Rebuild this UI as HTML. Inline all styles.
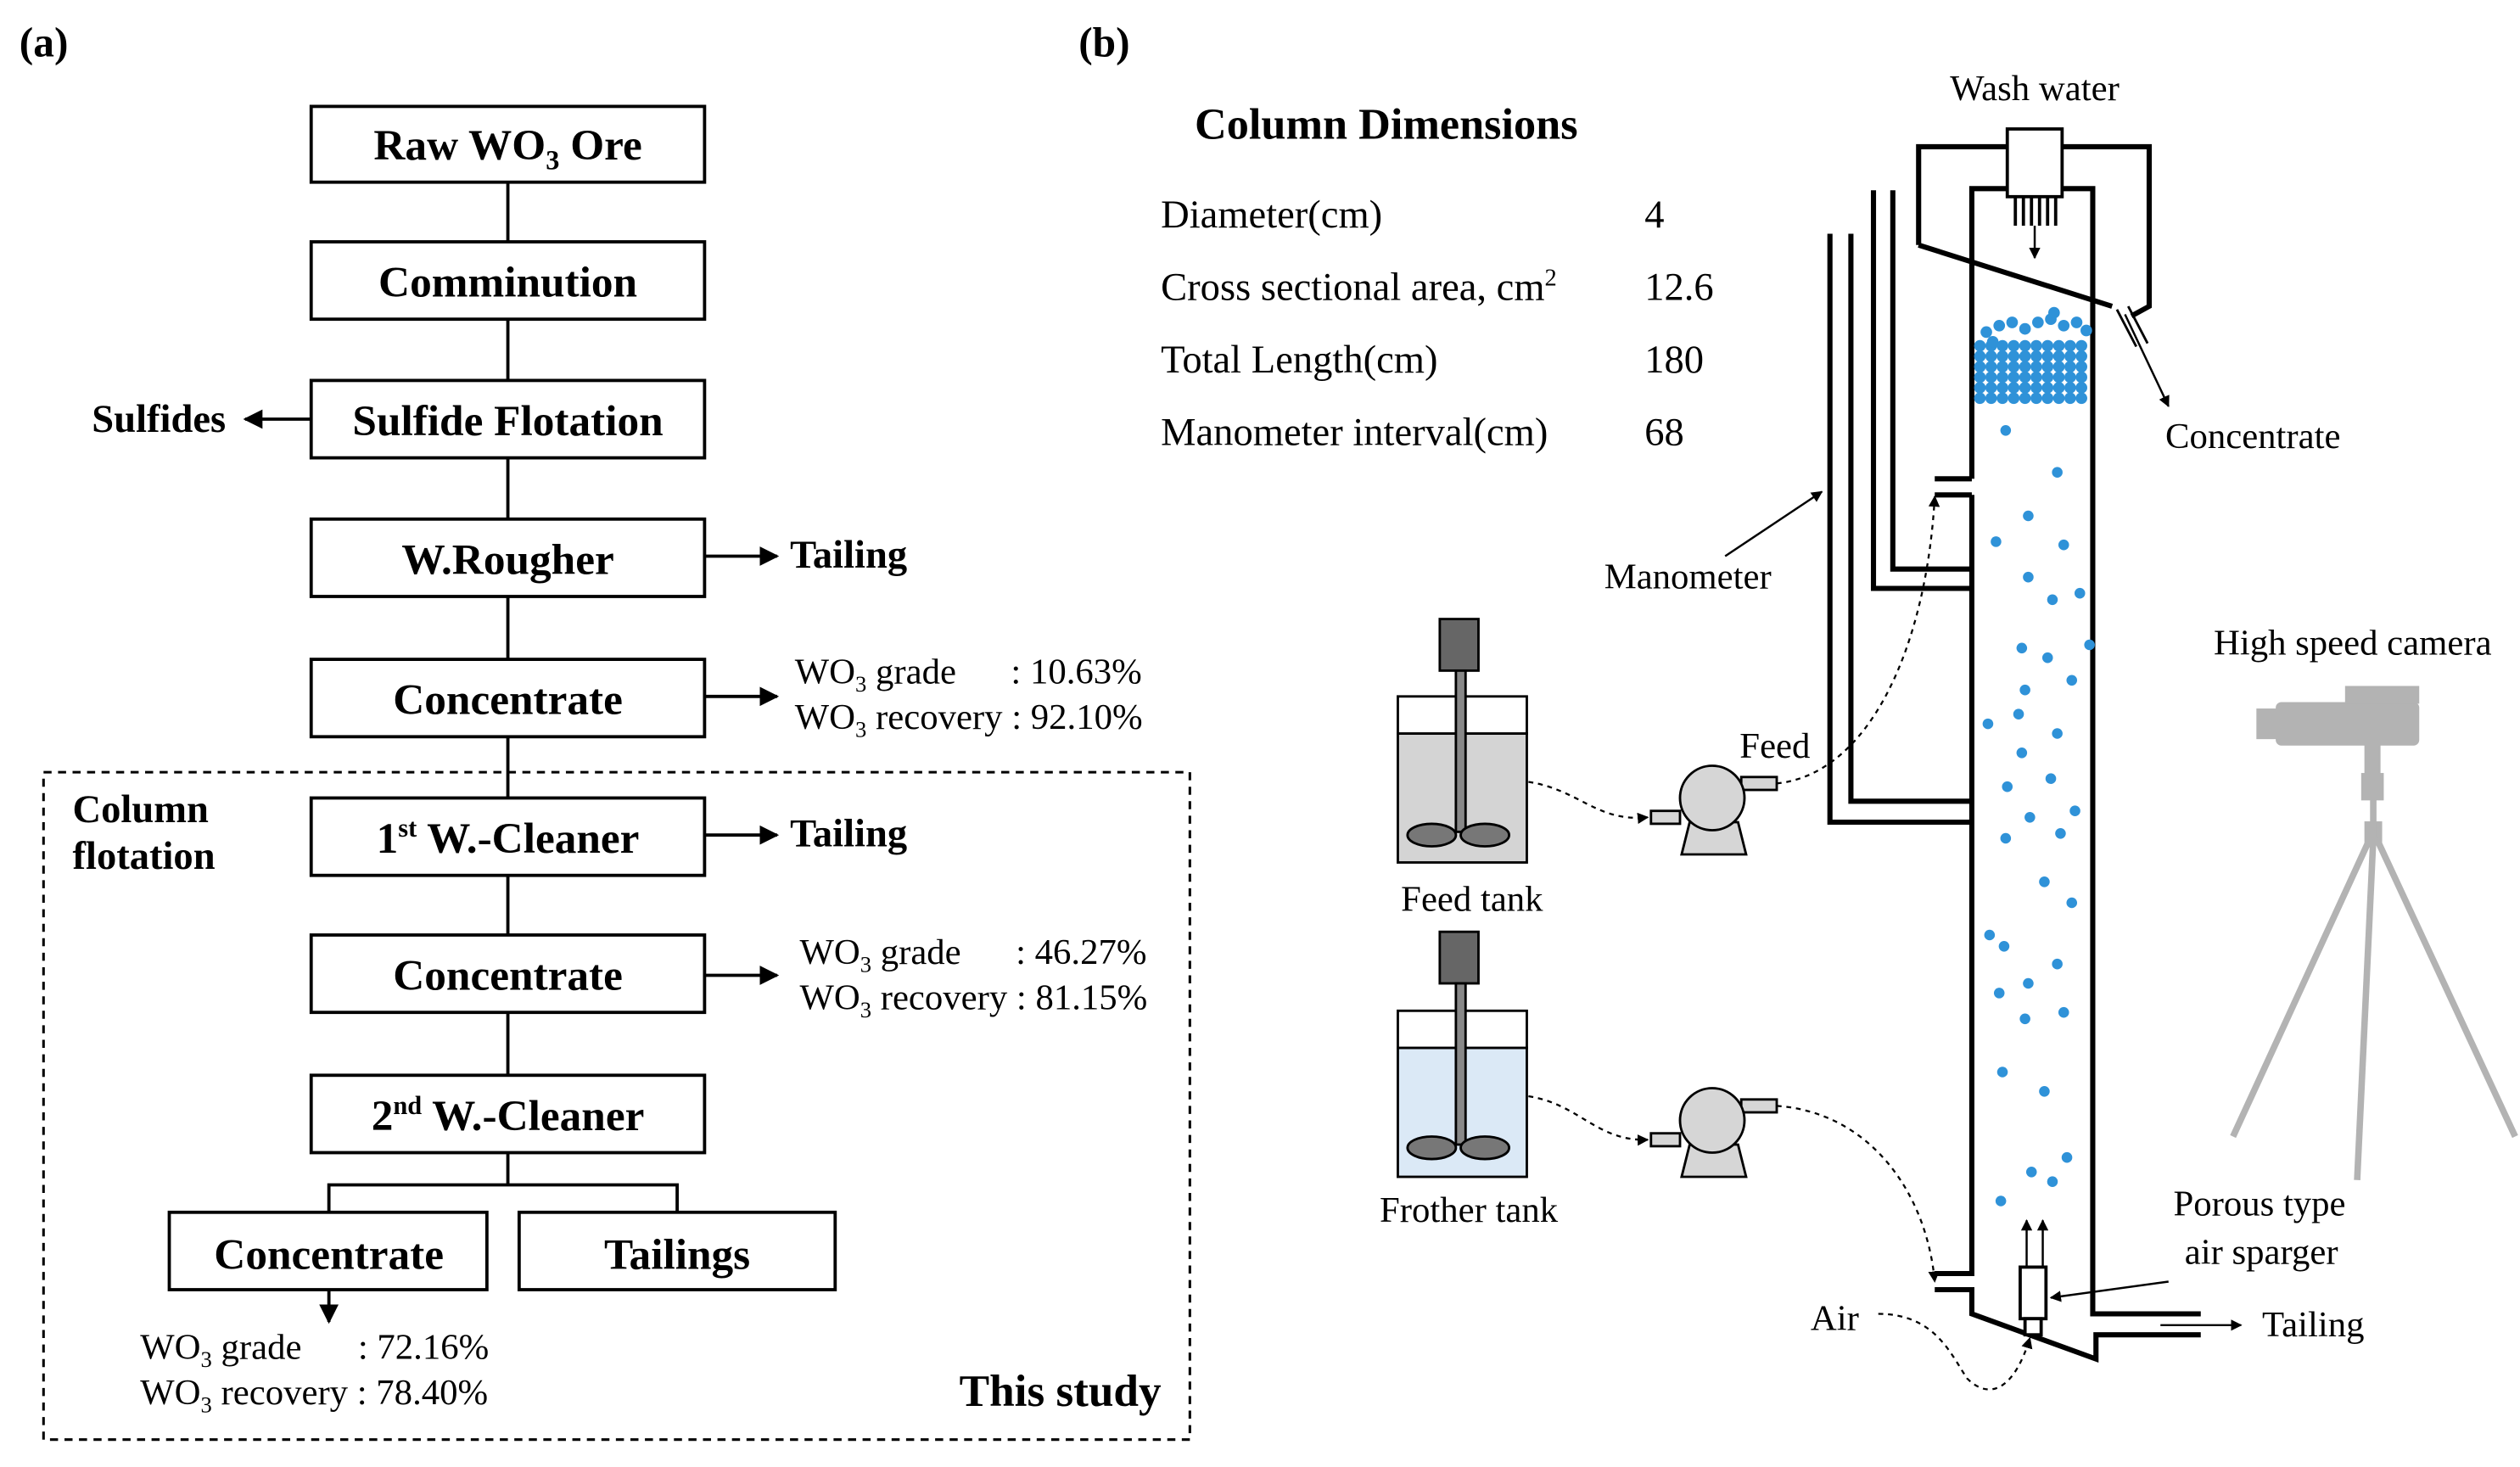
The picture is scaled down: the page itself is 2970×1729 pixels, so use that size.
<!DOCTYPE html>
<html><head><meta charset="utf-8"><style>
html,body{margin:0;padding:0;background:#fff}
svg{display:block}
text{font-family:"Liberation Serif",serif;fill:#000}
.b{font-weight:bold;font-size:27px}
.t{font-size:22.5px}
.tb{font-size:24.5px}
</style></head><body>
<svg id="s" width="2970" height="1729" viewBox="0 0 1563 910" preserveAspectRatio="none" xmlns="http://www.w3.org/2000/svg">
<defs>
<marker id="a" viewBox="0 0 10 10" refX="9" refY="5" markerWidth="7" markerHeight="7" orient="auto-start-reverse" markerUnits="userSpaceOnUse"><path d="M0,0L10,5L0,10z"/></marker>
<marker id="m" viewBox="0 0 10 10" refX="9" refY="5" markerWidth="12" markerHeight="12" orient="auto" markerUnits="userSpaceOnUse"><path d="M0,0L10,5L0,10z"/></marker>
</defs>
<text x="12" y="35" class="b" style="font-size:26px">(a)</text>
<text x="669" y="35" class="b" style="font-size:26px">(b)</text>
<g stroke="#000" stroke-width="2" fill="none">
<line x1="315" y1="113" x2="315" y2="735"/>
<rect x="193" y="66" width="244" height="47" fill="#fff"/>
<rect x="193" y="150" width="244" height="48" fill="#fff"/>
<rect x="193" y="236" width="244" height="48" fill="#fff"/>
<rect x="193" y="322" width="244" height="48" fill="#fff"/>
<rect x="193" y="409" width="244" height="48" fill="#fff"/>
<rect x="193" y="495" width="244" height="48" fill="#fff"/>
<rect x="193" y="580" width="244" height="48" fill="#fff"/>
<rect x="193" y="667" width="244" height="48" fill="#fff"/>
<rect x="105" y="752" width="197" height="48" fill="#fff"/>
<rect x="322" y="752" width="196" height="48" fill="#fff"/>
<path d="M204,752V735H420V752"/>
<rect x="27" y="479" width="711" height="414" stroke-dasharray="5,4" stroke-width="1.6"/>
</g>
<g stroke="#000" stroke-width="2" fill="none" marker-end="url(#m)">
<line x1="193" y1="260" x2="152" y2="260"/>
<line x1="437" y1="345" x2="482" y2="345"/>
<line x1="437" y1="432" x2="482" y2="432"/>
<line x1="437" y1="518" x2="482" y2="518"/>
<line x1="437" y1="605" x2="482" y2="605"/>
<line x1="204" y1="800" x2="204" y2="820"/>
</g>
<g class="b" text-anchor="middle">
<text x="315" y="99">Raw WO<tspan font-size="17" dy="6">3</tspan><tspan dy="-6"> Ore</tspan></text>
<text x="315" y="184">Comminution</text>
<text x="315" y="270">Sulfide Flotation</text>
<text x="315" y="356">W.Rougher</text>
<text x="315" y="443">Concentrate</text>
<text x="315" y="529">1<tspan font-size="16" dy="-10">st</tspan><tspan dy="10"> W.-Cleaner</tspan></text>
<text x="315" y="614">Concentrate</text>
<text x="315" y="701">2<tspan font-size="16" dy="-10">nd</tspan><tspan dy="10"> W.-Cleaner</tspan></text>
<text x="204" y="787">Concentrate</text>
<text x="420" y="787">Tailings</text>
</g>
<g class="b" style="font-size:24.5px">
<text x="57" y="268">Sulfides</text>
<text x="490" y="352">Tailing</text>
<text x="490" y="525">Tailing</text>
<text x="45" y="510">Column</text>
<text x="45" y="539">flotation</text>
<text x="595" y="872" style="font-size:28px">This study</text>
</g>
<g class="t">
<text x="493" y="424">WO<tspan font-size="14" dy="5">3</tspan><tspan dy="-5"> grade</tspan></text><text x="627" y="424">: 10.63%</text>
<text x="493" y="452">WO<tspan font-size="14" dy="5">3</tspan><tspan dy="-5"> recovery : 92.10%</tspan></text>
<text x="496" y="598">WO<tspan font-size="14" dy="5">3</tspan><tspan dy="-5"> grade</tspan></text><text x="630" y="598">: 46.27%</text>
<text x="496" y="626">WO<tspan font-size="14" dy="5">3</tspan><tspan dy="-5"> recovery : 81.15%</tspan></text>
<text x="87" y="843">WO<tspan font-size="14" dy="5">3</tspan><tspan dy="-5"> grade</tspan></text><text x="222" y="843">: 72.16%</text>
<text x="87" y="871">WO<tspan font-size="14" dy="5">3</tspan><tspan dy="-5"> recovery : 78.40%</tspan></text>
</g>
<text x="741" y="86" class="b" style="font-size:27.5px">Column Dimensions</text>
<g class="tb">
<text x="720" y="141">Diameter(cm)</text><text x="1020" y="141">4</text>
<text x="720" y="186">Cross sectional area, cm<tspan font-size="15" dy="-9">2</tspan></text><text x="1020" y="186">12.6</text>
<text x="720" y="231">Total Length(cm)</text><text x="1020" y="231">180</text>
<text x="720" y="276">Manometer interval(cm)</text><text x="1020" y="276">68</text>
</g>
<g class="t">
<text x="1262" y="62" text-anchor="middle">Wash water</text>
<text x="1343" y="278">Concentrate</text>
<text x="995" y="365">Manometer</text>
<text x="1079" y="470">Feed</text>
<text x="913" y="565" text-anchor="middle">Feed tank</text>
<text x="911" y="758" text-anchor="middle">Frother tank</text>
<text x="1373" y="406">High speed camera</text>
<text x="1348" y="754">Porous type</text>
<text x="1355" y="784">air sparger</text>
<text x="1123" y="825">Air</text>
<text x="1403" y="829">Tailing</text>
</g>
<g stroke="#000" stroke-width="3.2" fill="none">
<path d="M1190,152V91H1333V190L1322,196"/>
<path d="M1190,152L1310,190"/>
<path d="M1223,297V117H1298V815H1365"/>
<path d="M1223,307V790H1200"/>
<path d="M1200,800H1223V815L1300,843V828H1365"/>
<path d="M1135,145V510H1223"/>
<path d="M1148,145V497H1223"/>
<path d="M1162,118V365H1223"/>
<path d="M1174,118V353H1223"/>
<path d="M1200,297H1223M1200,307H1223"/>
</g>
<rect x="1245" y="80" width="34" height="42" fill="#fff" stroke="#000" stroke-width="2"/>
<g stroke="#000" stroke-width="2"><path d="M1250,122V140M1255,122V140M1260,122V140M1265,122V140M1270,122V140M1275,122V140"/>
<path d="M1313,192L1325,215M1320,190L1332,213" stroke-width="1.5"/></g>
<g stroke="#000" stroke-width="1.3" fill="none" marker-end="url(#a)">
<line x1="1262" y1="140" x2="1262" y2="160"/>
<line x1="1318" y1="195" x2="1345" y2="252"/>
<line x1="1070" y1="345" x2="1130" y2="305"/>
<line x1="1345" y1="795" x2="1272" y2="805"/>
<line x1="1340" y1="822" x2="1390" y2="822"/>
<line x1="1257" y1="786" x2="1257" y2="757"/>
<line x1="1267" y1="786" x2="1267" y2="757"/>
</g>
<rect x="1253" y="786" width="16" height="32" fill="#fff" stroke="#000" stroke-width="2"/>
<rect x="1256" y="818" width="10" height="10" fill="#fff" stroke="#000" stroke-width="2"/>
<g stroke="#000" stroke-width="1.2" fill="none" stroke-dasharray="3,3" marker-end="url(#a)">
<path d="M1102,486C1160,480 1195,400 1200,308"/>
<path d="M1102,686C1160,690 1195,740 1200,795"/>
<path d="M948,485C980,490 990,510 1022,507"/>
<path d="M948,680C980,685 990,708 1022,707"/>
<path d="M1165,815C1200,815 1210,840 1220,855C1235,870 1250,860 1259,830"/>
</g>
<g id="bub" fill="#2f92d8"></g>
<g stroke="#000" stroke-width="1.5">
<rect x="867" y="455" width="80" height="80" fill="#d4d4d4"/>
<rect x="867" y="432" width="80" height="23" fill="#fff"/>
<rect x="867" y="650" width="80" height="80" fill="#dbe9f6"/>
<rect x="867" y="627" width="80" height="23" fill="#fff"/>
<rect x="893" y="384" width="24" height="32" fill="#666"/>
<rect x="903" y="416" width="6" height="100" fill="#888"/>
<ellipse cx="888" cy="518" rx="15" ry="7" fill="#777"/><ellipse cx="921" cy="518" rx="15" ry="7" fill="#777"/>
<rect x="893" y="578" width="24" height="32" fill="#666"/>
<rect x="903" y="610" width="6" height="100" fill="#888"/>
<ellipse cx="888" cy="712" rx="15" ry="7" fill="#777"/><ellipse cx="921" cy="712" rx="15" ry="7" fill="#777"/>
<g fill="#d6d6d6">
<path d="M1048,510H1078L1083,530H1043Z"/><rect x="1080" y="482" width="22" height="8"/><rect x="1024" y="503" width="18" height="8"/><circle cx="1062" cy="495" r="20"/>
<path d="M1048,710H1078L1083,730H1043Z"/><rect x="1080" y="682" width="22" height="8"/><rect x="1024" y="703" width="18" height="8"/><circle cx="1062" cy="695" r="20"/>
</g>
</g>
<g fill="#b3b3b3" stroke="#b3b3b3">
<rect x="1412" y="436" width="88" height="26" rx="3"/>
<rect x="1400" y="440" width="14" height="18"/>
<rect x="1455" y="426" width="45" height="10"/>
<rect x="1467" y="462" width="9" height="18"/>
<rect x="1465" y="480" width="13" height="16"/>
<rect x="1467" y="510" width="10" height="14"/>
<g stroke-width="4" fill="none"><path d="M1472,496V520M1470,520L1385,705M1472,520L1462,732M1474,520L1560,705"/></g>
</g>
<script>
var g=document.getElementById('bub'),ns='http://www.w3.org/2000/svg';
function c(x,y,r){var e=document.createElementNS(ns,'circle');e.setAttribute('cx',x);e.setAttribute('cy',y);e.setAttribute('r',r||4);g.appendChild(e);}
for(var y=247;y>=212;y-=6.5)for(var x=1228;x<=1296;x+=7)c(x,y,3.6);
[[1232,206],[1240,202],[1248,200],[1256,204],[1264,200],[1272,198],[1280,202],[1288,200],[1294,205],[1236,212],[1274,194]].forEach(function(p){c(p[0],p[1],3.6)});
[[1244,267],[1276,293],[1258,320],[1280,338],[1238,336],[1258,358],[1290,368],[1273,372],[1296,400],[1254,402],[1270,408],[1285,422],[1256,428],[1252,443],[1233,449],[1276,455],[1254,467],[1245,488],[1272,483],[1287,503],[1259,507],[1244,520],[1278,517],[1268,547],[1285,560],[1234,580],[1243,587],[1276,598],[1258,610],[1240,616],[1280,628],[1256,632],[1242,665],[1268,677],[1282,718],[1273,733],[1241,745],[1260,727]].forEach(function(p){c(p[0],p[1],3.3)});
</script>
</svg>
</body></html>
